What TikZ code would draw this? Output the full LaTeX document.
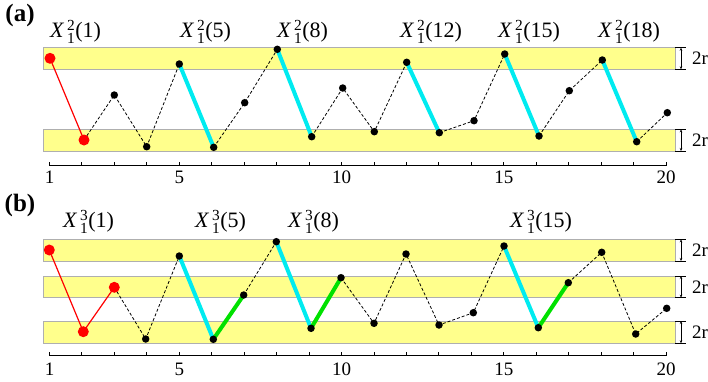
\documentclass[tikz,border=0pt]{standalone}
\usepackage{amsmath}
\usepackage{fontspec}
\setmainfont{Liberation Serif}
\usepackage{tikz}
\usetikzlibrary{arrows.meta}

\definecolor{bandyel}{RGB}{255,255,140}
\definecolor{bandedge}{RGB}{175,175,175}
\definecolor{jumpcyan}{RGB}{0,235,240}
\definecolor{jumpgreen}{RGB}{0,225,0}

% label X_1^k(n)
\newcommand{\xlab}[2]{$\textit{X}\,^{\text{#1}}_{\text{1}}$(#2)}

\tikzset{
  band/.style={fill=bandyel,draw=bandedge,line width=0.9pt},
  walk/.style={line width=0.8pt,dash pattern=on 3pt off 2pt},
  redwalk/.style={red,line width=1.2pt},
  cyanjump/.style={jumpcyan,line width=4pt},
  greenjump/.style={jumpgreen,line width=4pt},
  dot/.style={circle,fill=black,inner sep=0pt,minimum size=7.5pt},
  reddot/.style={circle,fill=red,inner sep=0pt,minimum size=11pt},
  lab/.style={anchor=west,inner sep=0pt,font=\fontsize{22}{25}\selectfont},
  num/.style={inner sep=0pt,font=\fontsize{19}{22}\selectfont},
  panel/.style={inner sep=0pt,font=\fontsize{25}{29}\selectfont\bfseries},
  dim/.style={line width=0.7pt,{Stealth[length=3pt,width=2.5pt]}-{Stealth[length=3pt,width=2.5pt]}},
}

\begin{document}
\begin{tikzpicture}[x=1pt,y=-1pt]
\useasboundingbox (0,0) rectangle (708,381);

%% (a)
\node[panel] (pa) at (20,15) {(a)};
\draw[band] (43,47.7) rectangle (675,69.3);
\draw[band] (43,129.3) rectangle (675,151);
\foreach \y/\h in {47.7/69.3,129.3/151}{
  \draw[line width=0.7pt] (675,\y) -- (686,\y);
  \draw[line width=0.7pt] (675,\h) -- (686,\h);
  \draw[dim] (681,\y) -- (681,\h);
  \node[num,anchor=west] at (692,{(\y+\h)/2}) {2r};
}
\coordinate (a1) at (50,58.3);
\coordinate (a2) at (84,140);
\coordinate (a3) at (114.3,95);
\coordinate (a4) at (146.7,146.7);
\coordinate (a5) at (179.3,64);
\coordinate (a6) at (213.7,147.3);
\coordinate (a7) at (244.7,102.7);
\coordinate (a8) at (277.3,49.3);
\coordinate (a9) at (311.7,136.7);
\coordinate (a10) at (342.7,88);
\coordinate (a11) at (374.3,131.7);
\coordinate (a12) at (406.7,62.3);
\coordinate (a13) at (439.3,132.7);
\coordinate (a14) at (474,120.7);
\coordinate (a15) at (504.7,54);
\coordinate (a16) at (539,136);
\coordinate (a17) at (569.3,90.7);
\coordinate (a18) at (602.3,60);
\coordinate (a19) at (636.7,141.7);
\coordinate (a20) at (667.3,112.7);
\draw[redwalk] (a1) -- (a2);
\draw[walk] (a2) -- (a3) -- (a4) -- (a5);
\draw[walk] (a6) -- (a7) -- (a8);
\draw[walk] (a9) -- (a10) -- (a11) -- (a12);
\draw[walk] (a13) -- (a14) -- (a15);
\draw[walk] (a16) -- (a17) -- (a18);
\draw[walk] (a19) -- (a20);
\foreach \i/\j in {5/6,8/9,12/13,15/16,18/19}
  \draw[cyanjump] (a\i) -- (a\j);
\node[reddot] at (a1) {};
\node[reddot] at (a2) {};
\foreach \i in {3,...,20}
  \node[dot] at (a\i) {};
\node[lab] (la1) at (50,32) {\xlab{2}{1}};
\node[lab] (la5) at (180,32) {\xlab{2}{5}};
\node[lab] (la8) at (277,32) {\xlab{2}{8}};
\node[lab] (la12) at (400,32) {\xlab{2}{12}};
\node[lab] (la15) at (498,32) {\xlab{2}{15}};
\node[lab] (la18) at (598,32) {\xlab{2}{18}};
% axis
\draw[line width=1pt] (49.5,165.5) -- (666,165.5);
\foreach \n in {1,...,20}
  \draw[line width=1pt] ({49.5+32.45*(\n-1)},165.5) -- ++(0,-4);
\foreach \n in {1,5,10,15,20}
  \node[num] at ({49.5+32.45*(\n-1)},177) {\n};

%% (b)
\node[panel] (pb) at (20,205) {(b)};
\draw[band] (43,239.3) rectangle (675,261);
\draw[band] (43,276) rectangle (675,297.7);
\draw[band] (43,321) rectangle (675,343.3);
\foreach \y/\h in {239.3/261,276/297.7,321/343.3}{
  \draw[line width=0.7pt] (675,\y) -- (686,\y);
  \draw[line width=0.7pt] (675,\h) -- (686,\h);
  \draw[dim] (681,\y) -- (681,\h);
  \node[num,anchor=west] at (692,{(\y+\h)/2}) {2r};
}
\coordinate (b1) at (49.3,250);
\coordinate (b2) at (83.3,331.7);
\coordinate (b3) at (114.3,287.3);
\coordinate (b4) at (145.7,339);
\coordinate (b5) at (179.3,256);
\coordinate (b6) at (213.3,339.3);
\coordinate (b7) at (243.7,295);
\coordinate (b8) at (276.3,241.7);
\coordinate (b9) at (311,328.3);
\coordinate (b10) at (341,277.7);
\coordinate (b11) at (374,323.3);
\coordinate (b12) at (406,254);
\coordinate (b13) at (439,325);
\coordinate (b14) at (473.3,312.7);
\coordinate (b15) at (504,246);
\coordinate (b16) at (538.3,327.7);
\coordinate (b17) at (568.3,282.7);
\coordinate (b18) at (601.7,252.3);
\coordinate (b19) at (635.7,334);
\coordinate (b20) at (666.7,308.3);
\draw[redwalk] (b1) -- (b2) -- (b3);
\draw[walk] (b3) -- (b4) -- (b5);
\draw[walk] (b7) -- (b8);
\draw[walk] (b10) -- (b11) -- (b12) -- (b13) -- (b14) -- (b15);
\draw[walk] (b17) -- (b18) -- (b19) -- (b20);
\foreach \i/\j in {5/6,8/9,15/16}
  \draw[cyanjump] (b\i) -- (b\j);
\foreach \i/\j in {6/7,9/10,16/17}
  \draw[greenjump] (b\i) -- (b\j);
\foreach \i in {1,2,3}
  \node[reddot] at (b\i) {};
\foreach \i in {4,...,20}
  \node[dot] at (b\i) {};
\node[lab] (lb1) at (63,222) {\xlab{3}{1}};
\node[lab] (lb5) at (195,222) {\xlab{3}{5}};
\node[lab] (lb8) at (288,222) {\xlab{3}{8}};
\node[lab] (lb15) at (510,222) {\xlab{3}{15}};
% axis
\draw[line width=1pt] (49.5,355.7) -- (666,355.7);
\foreach \n in {1,...,20}
  \draw[line width=1pt] ({49.5+32.45*(\n-1)},355.7) -- ++(0,-4);
\foreach \n in {1,5,10,15,20}
  \node[num] at ({49.5+32.45*(\n-1)},369) {\n};
\end{tikzpicture}
\end{document}
